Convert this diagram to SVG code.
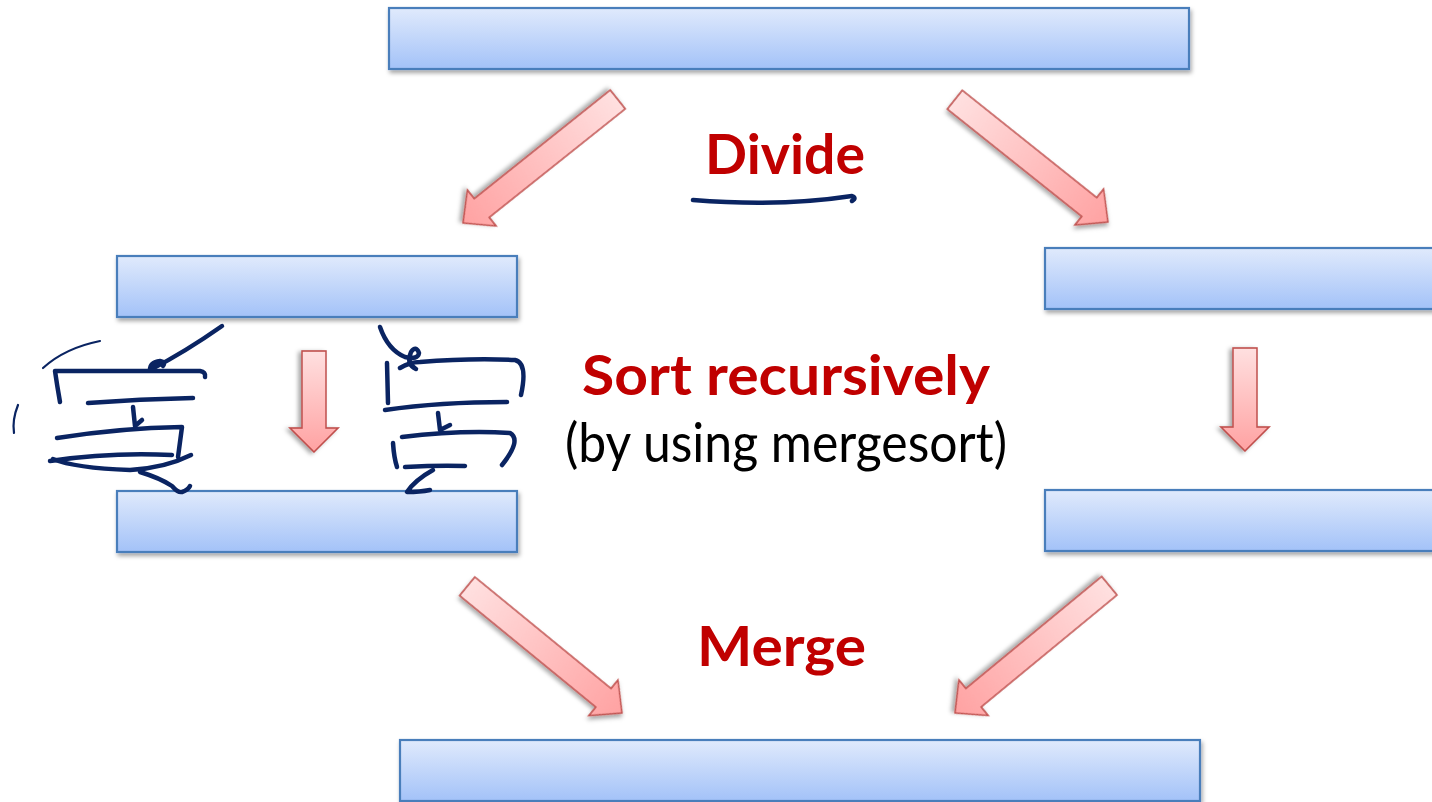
<svg xmlns="http://www.w3.org/2000/svg" width="1432" height="802" viewBox="0 0 1432 802">
  <defs>
    <linearGradient id="boxGrad" x1="0" y1="0" x2="0" y2="1">
      <stop offset="0" stop-color="#e0eafc"/>
      <stop offset="1" stop-color="#a3c2f8"/>
    </linearGradient>
    <linearGradient id="arrGrad" x1="0" y1="0" x2="1" y2="0">
      <stop offset="0" stop-color="#ffe0e0"/>
      <stop offset="1" stop-color="#ffa2a2"/>
    </linearGradient>
    <filter id="shadow" x="-10%" y="-30%" width="120%" height="180%">
      <feDropShadow dx="1.5" dy="3" stdDeviation="2" flood-color="#000" flood-opacity="0.35"/>
    </filter>
  </defs>
  <style>
    .box { fill: url(#boxGrad); stroke: #4a7ebb; stroke-width: 2.2; filter: url(#shadow); }
    .arrow { fill: url(#arrGrad); stroke: #c0504d; stroke-width: 1.6; stroke-linejoin: miter; filter: url(#shadow); }
    .title { font-family: Lato, "Open Sans", "Liberation Sans", sans-serif; font-weight: bold; font-size: 56px; fill: #c00000; }
    .sub { font-family: Lato, "Open Sans", "Liberation Sans", sans-serif; font-size: 55px; fill: #000; }
    .ink { fill: none; stroke: #0a2462; stroke-width: 4.5; stroke-linecap: round; stroke-linejoin: round; }
    .inkThin { fill: none; stroke: #0a2462; stroke-width: 2.2; stroke-linecap: round; }
  </style>

  <g id="box-top"><rect class="box" x="389" y="8" width="800" height="61"/></g>
  <g id="box-left-mid"><rect class="box" x="117" y="256" width="400" height="61"/></g>
  <g id="box-right-mid"><rect class="box" x="1045" y="248" width="420" height="61"/></g>
  <g id="box-left-low"><rect class="box" x="117" y="491" width="400" height="61"/></g>
  <g id="box-right-low"><rect class="box" x="1045" y="490" width="420" height="61"/></g>
  <g id="box-bottom"><rect class="box" x="400" y="740" width="800" height="61"/></g>

  <g id="connectors">
    <path class="arrow" transform="translate(463,223) rotate(141.4)" d="M0,0 L-24,-23 L-24,-12 L-198,-12 L-198,12 L-24,12 L-24,23 Z"/>
    <path class="arrow" transform="translate(1108,222) rotate(38.6)" d="M0,0 L-24,-23 L-24,-12 L-196,-12 L-196,12 L-24,12 L-24,23 Z"/>
    <path class="arrow" transform="translate(314,452) rotate(90)" d="M0,0 L-24,-24 L-24,-12 L-101,-12 L-101,12 L-24,12 L-24,24 Z"/>
    <path class="arrow" transform="translate(1245,451) rotate(90)" d="M0,0 L-24,-24 L-24,-12 L-103,-12 L-103,12 L-24,12 L-24,24 Z"/>
    <path class="arrow" transform="translate(622,713) rotate(39.3)" d="M0,0 L-24,-23 L-24,-12 L-200,-12 L-200,12 L-24,12 L-24,23 Z"/>
    <path class="arrow" transform="translate(955,713) rotate(140.5)" d="M0,0 L-24,-23 L-24,-12 L-200,-12 L-200,12 L-24,12 L-24,23 Z"/>
  </g>

  <g id="labels">
    <text class="title" x="705" y="174" textLength="160" lengthAdjust="spacingAndGlyphs">Divide</text>
    <text class="title" x="582" y="395" textLength="408" lengthAdjust="spacingAndGlyphs">Sort recursively</text>
    <text class="sub" x="565" y="462" textLength="442" lengthAdjust="spacingAndGlyphs">(by using mergesort)</text>
    <text class="title" x="697" y="666" textLength="169" lengthAdjust="spacingAndGlyphs">Merge</text>
  </g>

  <g id="ink">
    <path class="ink" d="M693,200 Q780,207 852,196 Q857,198 852,201"/>
    <path class="inkThin" d="M43,368 Q65,348 100,341"/>
    <path class="inkThin" d="M18,405 Q12,420 14,433"/>
    <path class="ink" d="M222,326 Q185,352 150,370 Q150,362 160,361 Q166,362 163,366"/>
    <path class="ink" d="M60,402 Q57,385 55,371 L200,371 Q206,372 205,377"/>
    <path class="ink" d="M88,403 Q140,399 193,398"/>
    <path class="ink" d="M133,407 L135,426 L142,420"/>
    <path class="ink" d="M57,438 Q120,428 182,427 L178,457"/>
    <path class="ink" d="M50,461 Q110,452 172,455"/>
    <path class="ink" d="M53,459 Q75,468 130,470 Q165,468 191,455"/>
    <path class="ink" d="M140,472 Q160,478 172,486 Q178,493 182,492 Q188,490 190,486"/>
    <path class="ink" d="M380,327 Q388,350 405,357 Q418,360 419,353 Q416,345 411,352 Q406,364 416,369"/>
    <path class="ink" d="M400,368 Q410,362 420,362 Q470,358 515,360 Q528,363 521,395"/>
    <path class="ink" d="M387,363 L388,403"/>
    <path class="ink" d="M385,410 Q440,402 507,402"/>
    <path class="ink" d="M438,413 L440,430 L450,425"/>
    <path class="ink" d="M402,437 Q460,430 510,433 Q522,440 502,465"/>
    <path class="ink" d="M393,443 Q394,458 397,467"/>
    <path class="ink" d="M405,467 Q440,465 465,466"/>
    <path class="ink" d="M433,470 Q415,480 407,492 Q420,492 430,490"/>
  </g>
</svg>
